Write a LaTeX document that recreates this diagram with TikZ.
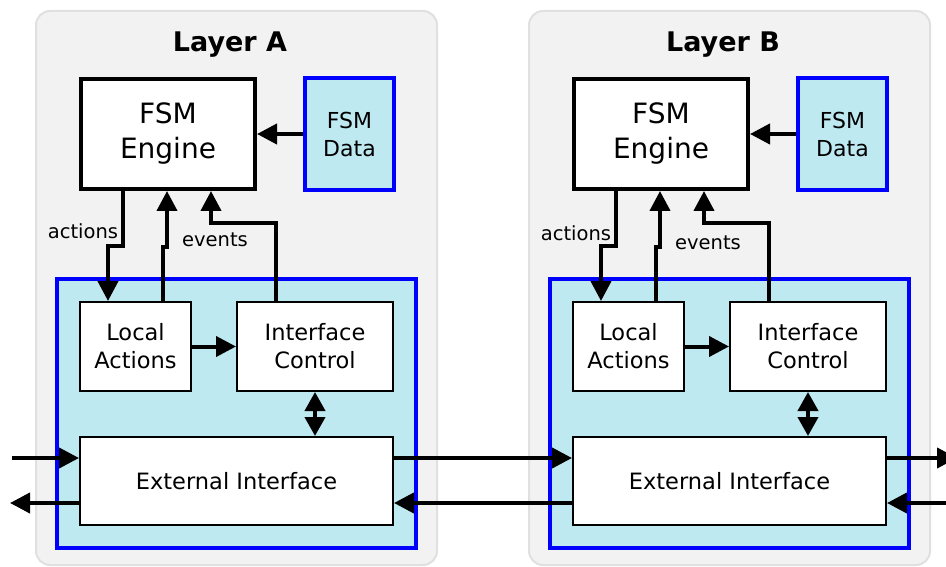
\documentclass[tikz,border=0pt]{standalone}
\usepackage{fontspec}
\setmainfont{DejaVu Sans}
\usetikzlibrary{arrows.meta,calc}
\definecolor{panelgray}{RGB}{242,242,242}
\definecolor{panelborder}{RGB}{224,224,224}
\definecolor{lightblue}{RGB}{190,233,241}
\begin{document}
\begin{tikzpicture}[x=1pt,y=-1pt,
  panel/.style={draw=panelborder,line width=2pt,fill=panelgray,rounded corners=14pt,minimum width=401pt,minimum height=554pt,inner sep=0pt},
  subbox/.style={draw=blue,line width=4pt,fill=lightblue,minimum width=359pt,minimum height=269pt,inner sep=0pt},
  engbox/.style={draw=black,line width=4pt,fill=white,minimum width=174pt,minimum height=110pt,inner sep=0pt,align=center,font=\fontsize{28}{35}\selectfont},
  databox/.style={draw=blue,line width=4pt,fill=lightblue,minimum width=89pt,minimum height=112pt,inner sep=0pt,align=center,font=\fontsize{22}{28}\selectfont},
  smallbox/.style={draw=black,line width=2pt,fill=white,inner sep=0pt,align=center,font=\fontsize{22.5}{28}\selectfont},
  titletext/.style={font=\fontsize{27}{32}\selectfont\bfseries},
  lbl/.style={font=\fontsize{19.5}{23}\selectfont,inner sep=0pt},
  conn/.style={line width=4pt,-{Triangle[length=20pt,width=20pt]}},
  dconn/.style={line width=4pt,{Triangle[length=19pt,width=20pt]}-{Triangle[length=19pt,width=20pt]}},
]
\useasboundingbox (0,0) rectangle (946,567);
\foreach \L/\dx/\ay/\ey in {A/0/231/240,B/493/233/243}{
  \begin{scope}[xshift=\dx pt]
    \node[panel] (panel\L) at (236.5,288) {};
    \node[titletext] (title\L) at (230,45) {Layer \L};
    \node[engbox] (eng\L) at (168,134) {FSM\\Engine};
    \node[databox] (data\L) at (349.5,134) {FSM\\Data};
    \node[subbox] (sub\L) at (236.5,413.5) {};
    \node[smallbox,minimum width=111pt,minimum height=89pt] (la\L) at (135.5,346.5) {Local\\Actions};
    \node[smallbox,minimum width=156pt,minimum height=89pt] (ic\L) at (315,346.5) {Interface\\Control};
    \node[smallbox,minimum width=313pt,minimum height=88pt] (ext\L) at (236.5,481) {External Interface};
    \node[lbl] (act\L) at (83,\ay) {actions};
    \node[lbl] (evt\L) at (215,\ey) {events};
    \draw[conn] (data\L.west) -- (eng\L.east);
    \draw[conn] ([xshift=-45pt]eng\L.south) -- ++(0,55) -| ([xshift=-27.5pt]la\L.north);
    \draw[conn] ([xshift=27.5pt]la\L.north) -- ++(0,-54) -| ([xshift=-1pt]eng\L.south);
    \draw[conn] ([xshift=-39pt]ic\L.north) -- ++(0,-78) -| ([xshift=43pt]eng\L.south);
    \draw[conn] (la\L.east) -- (ic\L.west);
    \draw[dconn] (ic\L.south) -- (ic\L.south |- ext\L.north);
  \end{scope}
}
\coordinate (inA) at (12,458);
\coordinate (outA) at (10,503);
\coordinate (outB) at (957,458);
\coordinate (inB) at (952,503);
\draw[conn] (inA) -- ([yshift=23pt]extA.west);
\draw[conn] ([yshift=-22pt]extA.west) -- (outA);
\draw[conn] ([yshift=23pt]extA.east) -- ([yshift=23pt]extB.west);
\draw[conn] ([yshift=-22pt]extB.west) -- ([yshift=-22pt]extA.east);
\draw[conn] ([yshift=23pt]extB.east) -- (outB);
\draw[conn] (inB) -- ([yshift=-22pt]extB.east);
\end{tikzpicture}
\end{document}
